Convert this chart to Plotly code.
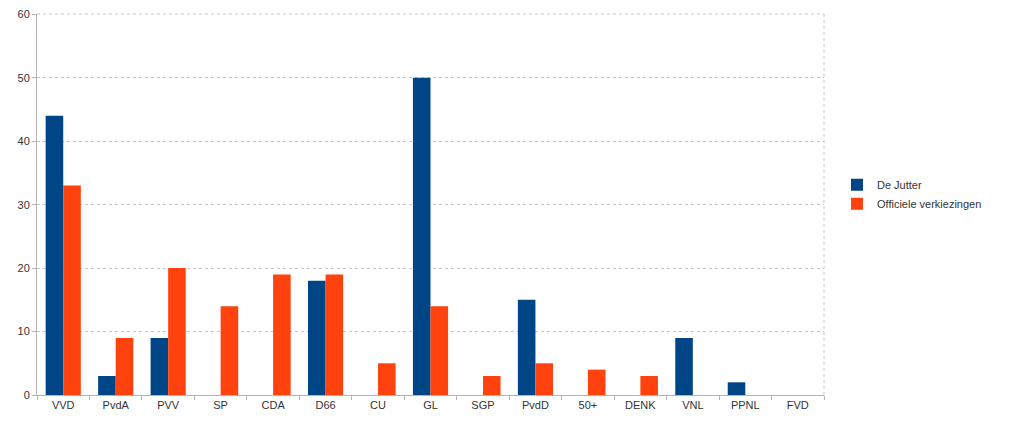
import plotly.graph_objects as go

categories = ["VVD", "PvdA", "PVV", "SP", "CDA", "D66", "CU", "GL", "SGP", "PvdD", "50+", "DENK", "VNL", "PPNL", "FVD"]
de_jutter = [44, 3, 9, 0, 0, 18, 0, 50, 0, 15, 0, 0, 9, 2, 0]
officieel = [33, 9, 20, 14, 19, 19, 5, 14, 3, 5, 4, 3, 0, 0, 0]
y_ticks = [0, 10, 20, 30, 40, 50, 60]

fig = go.Figure()
fig.add_trace(go.Bar(name="De Jutter", x=categories, y=de_jutter, marker_color="#004586", marker_line_width=0))
fig.add_trace(go.Bar(name="Officiele verkiezingen", x=categories, y=officieel, marker_color="#ff420e", marker_line_width=0))

fig.update_layout(
    width=1016, height=415,
    margin=dict(l=29, r=200, t=6, b=28, autoexpand=False),
    paper_bgcolor="white", plot_bgcolor="white",
    barmode="group", bargap=0.33, bargroupgap=0,
    font=dict(family="Liberation Sans, Arial, sans-serif", size=11, color="#333333"),
    legend=dict(x=1.0165, y=0.527, xanchor="left", yanchor="middle", font=dict(size=11),
                itemwidth=30, tracegroupgap=0),
    showlegend=True,
)
fig.update_xaxes(showgrid=False, showline=True, linecolor="#b3b3b3", linewidth=1, automargin=False,
                 ticks="outside", tickson="boundaries", ticklen=4, tickcolor="#b3b3b3")
fig.update_yaxes(range=[0, 60.05], tickvals=y_ticks, showgrid=True, gridcolor="#c8c8c8", griddash="dot",
                 showline=True, linecolor="#b3b3b3", linewidth=1, ticks="outside", ticklen=4,
                 tickcolor="#b3b3b3", zeroline=False, automargin=False, ticklabeloverflow="allow")
fig.add_shape(type="line", xref="paper", yref="paper", x0=1, x1=1, y0=0, y1=1,
              line=dict(color="#c8c8c8", width=1, dash="dot"))
fig.add_shape(type="line", xref="paper", yref="paper", x0=0, x1=1, y0=1, y1=1,
              line=dict(color="#c8c8c8", width=1, dash="dot"))

fig.write_html("out.html")
